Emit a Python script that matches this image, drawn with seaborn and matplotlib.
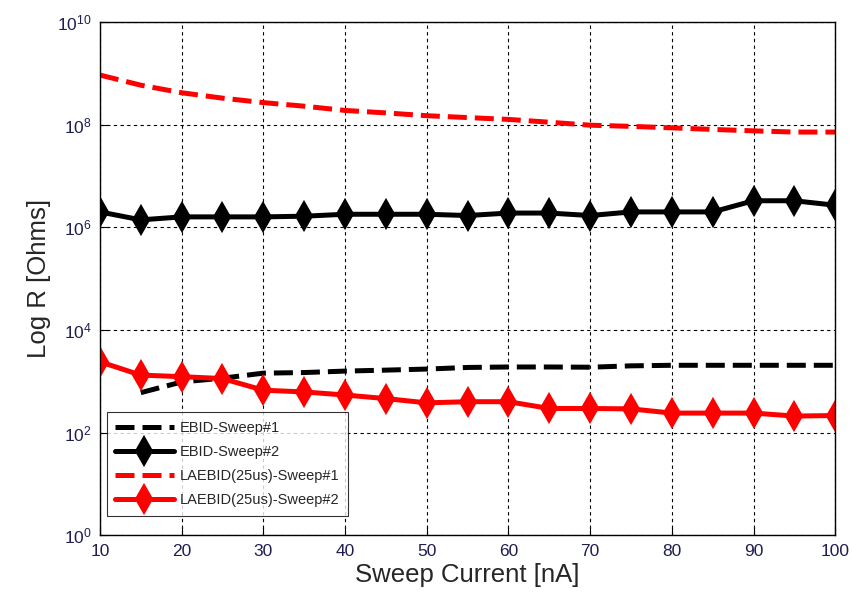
import matplotlib
matplotlib.use("Agg")
import matplotlib.pyplot as plt
import seaborn as sns
import pandas as pd
import numpy as np
from matplotlib.ticker import FixedLocator, NullLocator

current = [10, 15, 20, 25, 30, 35, 40, 45, 50, 55, 60, 65, 70, 75, 80, 85, 90, 95, 100]
ebid_s1_current = [15, 20, 25, 30, 35, 40, 45, 50, 55, 60, 65, 70, 75, 80, 85, 90, 95, 100]
ebid_s1 = [600, 970, 1150, 1440, 1480, 1580, 1650, 1730, 1860, 1900, 1900, 1880, 2000, 2050, 2050, 2050, 2050, 2050]
ebid_s2 = [2.0e6, 1.4e6, 1.6e6, 1.6e6, 1.6e6, 1.65e6, 1.8e6, 1.8e6, 1.8e6, 1.7e6, 1.9e6, 1.9e6, 1.7e6,
           2.0e6, 2.0e6, 2.0e6, 3.3e6, 3.3e6, 2.7e6]
laebid_s1 = [9.3e8, 5.9e8, 4.2e8, 3.3e8, 2.7e8, 2.3e8, 1.9e8, 1.7e8, 1.5e8, 1.38e8, 1.27e8, 1.12e8, 9.8e7,
             9.3e7, 8.7e7, 8.1e7, 7.6e7, 7.2e7, 7.2e7]
laebid_s2 = [2400, 1320, 1230, 1130, 670, 620, 540, 460, 380, 400, 400, 295, 295, 290, 240, 240, 240, 210, 215]

labels = ["EBID-Sweep#1", "EBID-Sweep#2", "LAEBID(25us)-Sweep#1", "LAEBID(25us)-Sweep#2"]
x_ticks = [10, 20, 30, 40, 50, 60, 70, 80, 90, 100]
y_ticks = [1e0, 1e2, 1e4, 1e6, 1e8, 1e10]

sns.set_style("white")
plt.rcParams['font.family'] = ['Liberation Sans', 'DejaVu Sans']
plt.rcParams['mathtext.fontset'] = 'custom'
plt.rcParams['mathtext.rm'] = 'Liberation Sans'

fig = plt.figure(figsize=(8.54, 5.98), dpi=100)
ax = fig.add_axes([0.117, 0.105, 0.861, 0.858])

df1 = pd.DataFrame({"x": ebid_s1_current, "y": ebid_s1})
df2 = pd.DataFrame({"x": current, "y": ebid_s2})
df3 = pd.DataFrame({"x": current, "y": laebid_s1})
df4 = pd.DataFrame({"x": current, "y": laebid_s2})

sns.lineplot(data=df1, x="x", y="y", ax=ax, color="black", linewidth=3.6,
             label=labels[0])
ax.lines[-1].set_dashes([3.8, 1.6])
sns.lineplot(data=df2, x="x", y="y", ax=ax, color="black", linewidth=3.6, marker="d",
             markersize=14, markeredgewidth=1.5, markeredgecolor="black", label=labels[1])
sns.lineplot(data=df3, x="x", y="y", ax=ax, color="red", linewidth=3.6,
             label=labels[2])
ax.lines[-1].set_dashes([3.8, 1.6])
sns.lineplot(data=df4, x="x", y="y", ax=ax, color="red", linewidth=3.6, marker="d",
             markersize=14, markeredgewidth=1.5, markeredgecolor="red", label=labels[3])

ax.set_yscale("log")
ax.set_xlim(10, 100)
ax.set_ylim(1e0, 1e10)
ax.xaxis.set_major_locator(FixedLocator(x_ticks))
ax.yaxis.set_major_locator(FixedLocator(y_ticks))
ax.yaxis.set_minor_locator(NullLocator())
ax.grid(True, which="major", color="black", linestyle=(0, (3, 3)), linewidth=0.8)
ax.tick_params(direction="in", length=6, width=0.8, labelsize=12.5, colors="black",
               labelcolor="#1e1e50", pad=6, top=False, right=False, bottom=True, left=True)
for s in ax.spines.values():
    s.set_color("black")
    s.set_linewidth(1.0)
    s.set_visible(True)

ax.set_xlabel("Sweep Current [nA]", fontsize=18.5, labelpad=3)
ax.set_ylabel("Log R [Ohms]", fontsize=18.5, labelpad=4)

leg = ax.legend(loc="lower left", bbox_to_anchor=(0.009, 0.037), fontsize=10.5,
                frameon=True, fancybox=False, edgecolor="black", handlelength=4.0,
                borderpad=0.6, labelspacing=0.7, handletextpad=0.4, borderaxespad=0)
leg.get_frame().set_linewidth(0.8)

fig.savefig("out.png", dpi=100)
